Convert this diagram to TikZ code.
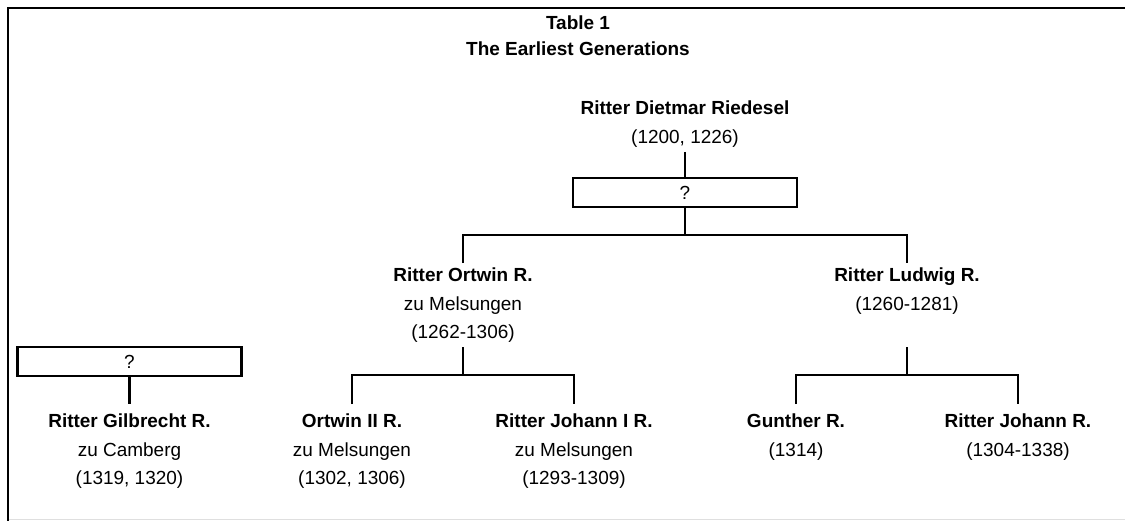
\documentclass[tikz,border=0pt]{standalone}
\usepackage{fontspec}
\setmainfont{Liberation Sans}

\begin{document}
\begin{tikzpicture}[x=0.02cm, y=-0.02cm, line width=1.5pt,
        every node/.style={align=center, inner sep=2pt, font=\fontsize{10.8}{16.2}\selectfont},
        person/.style={anchor=north},
        child/.style={anchor=north, inner ysep=5pt},
        unknown/.style={draw, minimum width=4.48cm, minimum height=0.58cm, inner sep=0pt}]
        \useasboundingbox (0,0) rectangle (1125,521);
        \draw[gray!25, line width=0.8pt] (8,519.5) -- (1125,519.5);
        \draw (1125,8) -- (8,8) -- (8,521);

        \node[person, font=\fontsize{10.8}{14.5}\selectfont\bfseries] (title) at (578,11) {Table 1\\The Earliest Generations};

        \node[person] (dietmar) at (685,96) {\textbf{Ritter Dietmar Riedesel}\\(1200, 1226)};
        \node[unknown] (q1) at (685,192.5) {?};
        \node[person] (ortwin) at (463,263) {\textbf{Ritter Ortwin R.}\\zu Melsungen\\(1262-1306)};
        \node[person] (ludwig) at (907,263) {\textbf{Ritter Ludwig R.}\\(1260-1281)};

        \node[unknown] (q2) at (129.5,361.5) {?};
        \node[child] (gilbrecht) at (129.5,404) {\textbf{Ritter Gilbrecht R.}\\zu Camberg\\(1319, 1320)};
        \node[child] (ortwin2) at (352,404) {\textbf{Ortwin II R.}\\zu Melsungen\\(1302, 1306)};
        \node[child] (johann1) at (574,404) {\textbf{Ritter Johann I R.}\\zu Melsungen\\(1293-1309)};
        \node[child] (gunther) at (796,404) {\textbf{Gunther R.}\\(1314)};
        \node[child] (johann) at (1018,404) {\textbf{Ritter Johann R.}\\(1304-1338)};

        \coordinate (b1) at (685,235);
        \coordinate (b2) at (463,375);
        \coordinate (b3) at (907,375);
        \coordinate (lud) at (907,347);

        \draw (dietmar) -- (q1);
        \draw (q1) -- (b1);
        \draw (ortwin.north) |- (b1) -| (ludwig.north);
        \draw (ortwin) -- (b2);
        \draw (ortwin2.north) |- (b2) -| (johann1.north);
        \draw (lud) -- (b3);
        \draw (gunther.north) |- (b3) -| (johann.north);
        \draw (q2) -- (gilbrecht);
\end{tikzpicture}
\end{document}
